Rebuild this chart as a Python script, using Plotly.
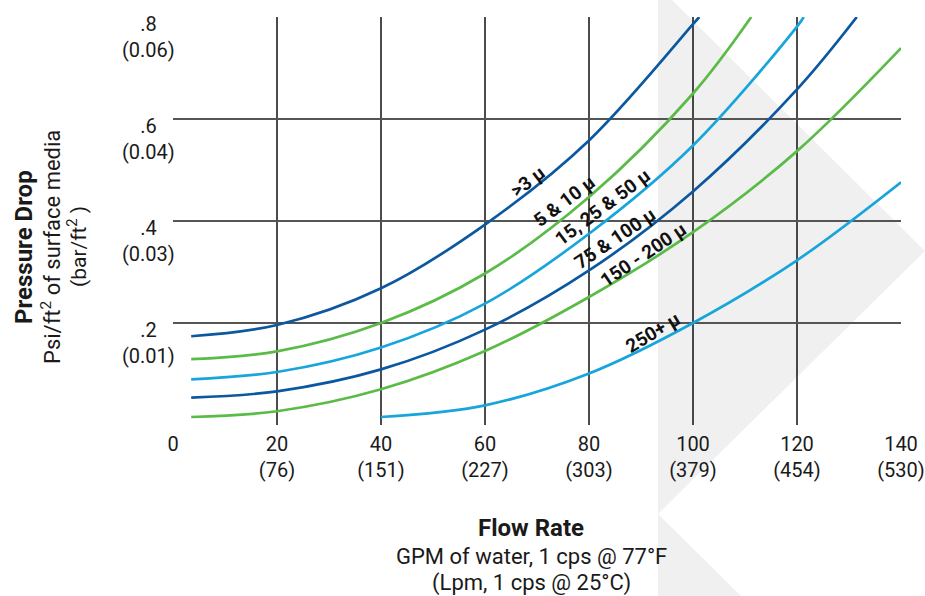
import plotly.graph_objects as go

# ---------------- data ----------------
X_TICKS = [0, 20, 40, 60, 80, 100, 120, 140]
X_TICK_LPM = ["", "(76)", "(151)", "(227)", "(303)", "(379)", "(454)", "(530)"]
Y_TICKS = [0.2, 0.4, 0.6, 0.8]
Y_TICK_PSI = [".2", ".4", ".6", ".8"]
Y_TICK_BAR = ["(0.01)", "(0.03)", "(0.04)", "(0.06)"]

GRID_X = [20, 40, 60, 80, 100, 120]
GRID_Y = [0.2, 0.4, 0.6]

SERIES_NAMES = [">3 μ", "5 & 10 μ", "15, 25 & 50 μ", "75 & 100 μ", "150 - 200 μ", "250+ μ"]

flow_3 = [3.5, 20, 40, 60, 80, 100, 101.2]
dp_3 = [0.174, 0.196, 0.268, 0.393, 0.558, 0.786, 0.80]

flow_5_10 = [3.5, 20, 40, 60, 80, 100, 111.2]
dp_5_10 = [0.129, 0.1445, 0.200, 0.297, 0.447, 0.650, 0.80]

flow_15_50 = [3.5, 20, 40, 60, 80, 100, 120, 121.3]
dp_15_50 = [0.0896, 0.104, 0.152, 0.238, 0.375, 0.548, 0.781, 0.80]

flow_75_100 = [3.5, 20, 40, 60, 80, 100, 120, 131.5]
dp_75_100 = [0.0537, 0.066, 0.109, 0.187, 0.303, 0.458, 0.658, 0.80]

flow_150_200 = [3.5, 20, 40, 60, 80, 100, 120, 140]
dp_150_200 = [0.0157, 0.027, 0.070, 0.145, 0.251, 0.378, 0.537, 0.739]

flow_250 = [40, 60, 80, 100, 120, 140]
dp_250 = [0.0157, 0.0386, 0.101, 0.200, 0.323, 0.476]

SERIES_X = [flow_3, flow_5_10, flow_15_50, flow_75_100, flow_150_200, flow_250]
SERIES_Y = [dp_3, dp_5_10, dp_15_50, dp_75_100, dp_150_200, dp_250]

# ---------------- styles ----------------
DARK_BLUE = "#0b58a0"
GREEN = "#5bbb47"
LIGHT_BLUE = "#17a5db"
COLORS = [DARK_BLUE, GREEN, LIGHT_BLUE, DARK_BLUE, GREEN, LIGHT_BLUE]
# label placement (x, y in data units, rotation)
LABEL_POS = [(68.2, 0.478, -37), (75.2, 0.438, -37), (82.5, 0.427, -37),
             (85.0, 0.365, -34), (90.5, 0.334, -34), (92.3, 0.182, -31)]

FONT = "Roboto"
TXT = "#1a1a1a"
W, H = 925, 596
ML, MR, MT, MB = 173, 24, 17, 171
PW, PH = W - ML - MR, H - MT - MB


def pp(px, py):
    """pixel -> paper coords (decoration only)"""
    return (px - ML) / PW, (H - MB - py) / PH


def path(points):
    pts = [pp(*p) for p in points]
    return "M " + " L ".join(f"{x:.4f},{y:.4f}" for x, y in pts) + " Z"


fig = go.Figure()

for name, xs, ys, c in zip(SERIES_NAMES, SERIES_X, SERIES_Y, COLORS):
    fig.add_trace(go.Scatter(x=xs, y=ys, mode="lines", name=name,
                             line=dict(color=c, width=2.7, shape="spline", smoothing=1.0),
                             hoverinfo="skip", showlegend=False))

shapes = []
# grey chevron decoration
shapes.append(dict(type="path", xref="paper", yref="paper", layer="below",
                   path=path([(658, 0), (672, 0), (925, 251), (658, 514)]),
                   fillcolor="#f0f0f0", line=dict(width=0)))
shapes.append(dict(type="path", xref="paper", yref="paper", layer="below",
                   path=path([(658, 514), (741, 596), (658, 596)]),
                   fillcolor="#f0f0f0", line=dict(width=0)))
for gx in GRID_X:
    shapes.append(dict(type="line", xref="x", yref="y", layer="below",
                       x0=gx, x1=gx, y0=0, y1=0.8, line=dict(color="#111111", width=1.5)))
for gy in GRID_Y:
    shapes.append(dict(type="line", xref="x", yref="y", layer="below",
                       x0=0, x1=140, y0=gy, y1=gy, line=dict(color="#555555", width=2)))

annotations = []
for name, (lx, ly, ang) in zip(SERIES_NAMES, LABEL_POS):
    annotations.append(dict(x=lx, y=ly, xref="x", yref="y", text=f"<b>{name}</b>",
                            showarrow=False, textangle=ang,
                            font=dict(family=FONT, size=19, color="#111111")))

# y tick labels (two lines, centred)
for v, a, b in zip(Y_TICKS, Y_TICK_PSI, Y_TICK_BAR):
    annotations.append(dict(x=pp(148, 0)[0], y=v, xref="paper", yref="y",
                            text=f"{a}<br>{b}", showarrow=False, align="center",
                            xanchor="center", yanchor="middle", yshift=-20,
                            font=dict(family=FONT, size=20, color=TXT)))

# axis titles
ytitle = [("<b>Pressure Drop</b>", 24), ("Psi/ft<sup>2</sup> of surface media", 22),
          ("(bar/ft<sup>2</sup> )", 21)]
for (t, fs), px in zip(ytitle, [24, 51, 77]):
    annotations.append(dict(x=pp(px, 0)[0], y=pp(0, 247)[1], xref="paper", yref="paper",
                            text=t, showarrow=False, textangle=-90,
                            xanchor="center", yanchor="middle",
                            font=dict(family=FONT, size=fs, color=TXT)))
xtitle = [("<b>Flow Rate</b>", 24), ("GPM of water, 1 cps @ 77°F", 22),
          ("(Lpm, 1 cps @ 25°C)", 22)]
for (t, fs), py in zip(xtitle, [528, 556, 583]):
    annotations.append(dict(x=pp(531, 0)[0], y=pp(0, py)[1], xref="paper", yref="paper",
                            text=t, showarrow=False, xanchor="center", yanchor="middle",
                            font=dict(family=FONT, size=fs, color=TXT)))

x_ticktext = [f"{v}" if lp == "" else f"{v}<br>{lp}" for v, lp in zip(X_TICKS, X_TICK_LPM)]

fig.update_layout(
    width=W, height=H, autosize=False,
    margin=dict(l=ML, r=MR, t=MT, b=MB, pad=0, autoexpand=False),
    paper_bgcolor="white", plot_bgcolor="rgba(0,0,0,0)",
    shapes=shapes, annotations=annotations,
    xaxis=dict(range=[0, 140], tickvals=X_TICKS, ticktext=x_ticktext, automargin=False,
               showgrid=False, zeroline=False, showline=False, ticks="",
               ticklabelstandoff=5,
               tickfont=dict(family=FONT, size=20, color=TXT), fixedrange=True),
    yaxis=dict(range=[0, 0.8], showgrid=False, zeroline=False, showline=False, automargin=False,
               showticklabels=False, ticks="", fixedrange=True),
)

fig.write_html("out.html", config={"displayModeBar": False},
               post_script="document.body.style.margin='0';document.body.style.overflow='hidden';")
